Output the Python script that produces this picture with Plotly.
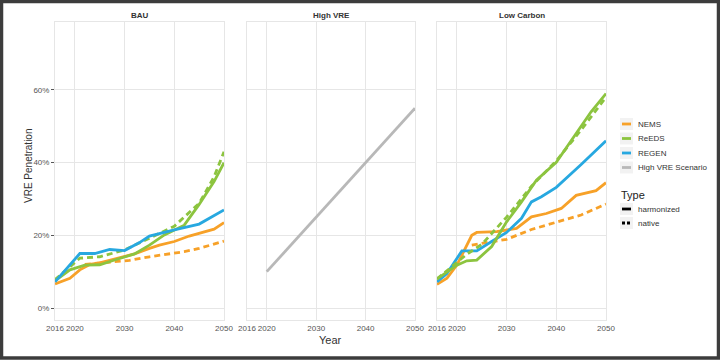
import plotly.graph_objects as go
from plotly.subplots import make_subplots

# ---- data (VRE penetration, %) ----
panels = ["BAU", "High VRE", "Low Carbon"]

bau_nems_h_years = [2016, 2019, 2021, 2023, 2025, 2028, 2032, 2035, 2037, 2040, 2043, 2048, 2050]
bau_nems_h = [6.6, 8.2, 10.5, 12.0, 12.4, 13.4, 14.9, 16.4, 17.3, 18.3, 19.8, 21.7, 23.5]
bau_nems_n_years = [2022, 2025, 2028, 2031, 2035, 2040, 2042, 2045, 2050]
bau_nems_n = [12.0, 12.4, 12.7, 13.1, 14.1, 15.2, 15.5, 16.4, 18.4]
bau_reeds_h_years = [2016, 2019, 2022, 2025, 2028, 2032, 2035, 2038, 2042, 2045, 2048, 2050]
bau_reeds_h = [7.5, 10.5, 11.8, 11.9, 13.2, 14.9, 17.3, 20.1, 22.8, 28.5, 34.8, 40.0]
bau_reeds_n_years = [2016, 2021, 2025, 2030, 2035, 2040, 2045, 2048, 2050]
bau_reeds_n = [7.8, 13.7, 14.1, 16.0, 19.2, 22.5, 28.8, 36.1, 43.0]
bau_regen_h_years = [2016, 2021, 2024, 2027, 2030, 2033, 2035, 2037, 2040, 2045, 2050]
bau_regen_h = [7.2, 15.0, 15.0, 16.1, 15.8, 18.0, 19.8, 20.4, 21.5, 23.1, 27.0]

highvre_years = [2020, 2050]
highvre = [10.0, 55.0]

lc_nems_h_years = [2016, 2018, 2020, 2023, 2024, 2028, 2032, 2035, 2038, 2041, 2044, 2048, 2050]
lc_nems_h = [6.5, 8.2, 11.8, 20.0, 20.8, 21.0, 21.9, 25.1, 26.0, 27.4, 31.0, 32.3, 34.5]
lc_nems_n_years = [2023, 2030, 2035, 2040, 2045, 2050]
lc_nems_n = [17.3, 18.9, 21.6, 23.5, 25.6, 28.6]
lc_reeds_h_years = [2016, 2020, 2022, 2024, 2027, 2030, 2033, 2036, 2040, 2044, 2047, 2050]
lc_reeds_h = [8.0, 11.8, 13.0, 13.2, 16.9, 23.7, 29.2, 35.2, 40.1, 48.0, 54.0, 59.0]
lc_reeds_n_years = [2016, 2020, 2022, 2025, 2030, 2035, 2040, 2045, 2050]
lc_reeds_n = [8.0, 12.5, 14.8, 17.5, 25.0, 33.5, 40.5, 49.0, 58.0]
lc_regen_h_years = [2016, 2018, 2021, 2024, 2027, 2030, 2033, 2035, 2037, 2040, 2045, 2050]
lc_regen_h = [7.2, 9.5, 15.7, 15.7, 18.3, 20.8, 24.7, 29.2, 30.6, 33.2, 39.5, 46.0]

x_ticks = [2016, 2020, 2030, 2040, 2050]
y_ticks = [0, 20, 40, 60]
y_labels = ["0%", "20%", "40%", "60%"]

models = ["NEMS", "ReEDS", "REGEN", "High VRE Scenario"]
types = ["harmonized", "native"]
colors = {"NEMS": "#F7A128", "ReEDS": "#8CC43F", "REGEN": "#27A8E0", "High VRE Scenario": "#B8B8B8"}
DASH = "6px,4px"
LW = 2.8

fig = make_subplots(rows=1, cols=3, shared_yaxes=True)

def add(col, x, y, model, dash="solid"):
    fig.add_trace(go.Scatter(x=x, y=y, mode="lines", showlegend=False,
                             line=dict(color=colors[model], width=LW, dash=dash)),
                  row=1, col=col)

# BAU
add(1, bau_nems_n_years, bau_nems_n, "NEMS", DASH)
add(1, bau_nems_h_years, bau_nems_h, "NEMS")
add(1, bau_reeds_n_years, bau_reeds_n, "ReEDS", DASH)
add(1, bau_reeds_h_years, bau_reeds_h, "ReEDS")
add(1, bau_regen_h_years, bau_regen_h, "REGEN")
# High VRE
add(2, highvre_years, highvre, "High VRE Scenario")
# Low Carbon
add(3, lc_nems_n_years, lc_nems_n, "NEMS", DASH)
add(3, lc_nems_h_years, lc_nems_h, "NEMS")
add(3, lc_regen_h_years, lc_regen_h, "REGEN")
add(3, lc_reeds_n_years, lc_reeds_n, "ReEDS", DASH)
add(3, lc_reeds_h_years, lc_reeds_h, "ReEDS")

# layout geometry (pixels -> paper)
W, H = 720, 360
L, R, T, B = 55, 114, 22, 40
pw, ph = W - L - R, H - T - B

def px(x):
    return (x - L) / pw

def py(y):
    return 1 - (y - T) / ph

def label(text, x, y, size=8, color="#333", anchor="center", angle=0):
    fig.add_annotation(text=text, x=px(x), y=py(y), xref="paper", yref="paper",
                       xanchor=anchor, yanchor="middle", textangle=angle,
                       showarrow=False, font=dict(size=size, color=color))

doms = [(55, 224), (247, 415), (437, 606)]
axis_common = dict(showgrid=True, gridcolor="#E6E6E6", gridwidth=1, showline=True,
                   linecolor="#E6E6E6", linewidth=1, mirror=True, zeroline=False,
                   automargin=False, tickfont=dict(size=8, color="#555"))
for i, (a, b) in enumerate(doms, start=1):
    fig.update_xaxes(domain=[px(a), px(b)], range=[2016, 2050], tickangle=0,
                     tickvals=x_ticks, ticks="", **axis_common, row=1, col=i)
    fig.update_yaxes(range=[-3.3, 78.7], tickvals=y_ticks, ticktext=y_labels,
                     ticks="outside" if i == 1 else "", ticklen=3, tickcolor="#555",
                     **axis_common, row=1, col=i)
    label("<b>%s</b>" % panels[i - 1], (a + b) / 2, 15)

label("VRE Penetration", 29, 165, size=10, angle=-90)
label("Year", 330, 340, size=11)

# manual legend (ggplot style short keys)
def key(yc, color, dash="solid"):
    fig.add_shape(type="rect", xref="paper", yref="paper", x0=px(620), x1=px(633),
                  y0=py(yc + 6), y1=py(yc - 6), fillcolor="#F2F2F2", line=dict(width=0))
    fig.add_shape(type="line", xref="paper", yref="paper", x0=px(622), x1=px(631),
                  y0=py(yc), y1=py(yc), line=dict(color=color, width=LW, dash=dash))

for j, m in enumerate(models):
    yc = 124 + j * 14.5
    key(yc, colors[m])
    label(m, 636, yc, anchor="left")
label("Type", 619, 195, size=11, color="#222", anchor="left")
for j, t in enumerate(types):
    yc = 209 + j * 14
    key(yc, "black", "solid" if t == "harmonized" else "3px,2px")
    label(t, 636, yc, anchor="left")

# outer frame
fig.add_shape(type="rect", xref="paper", yref="paper",
              x0=px(1.5), x1=px(W - 1.5), y0=py(H - 2), y1=py(1.5),
              line=dict(color="#3C3C3C", width=3.5))

fig.update_layout(
    width=W, height=H, margin=dict(l=L, r=R, t=T, b=B, autoexpand=False),
    paper_bgcolor="white", plot_bgcolor="white", showlegend=False,
    font=dict(family="Liberation Sans, Arial, sans-serif", color="#333"),
)

fig.write_html("out.html", config={"displayModeBar": False},
               post_script="document.body.style.margin = '0';")
